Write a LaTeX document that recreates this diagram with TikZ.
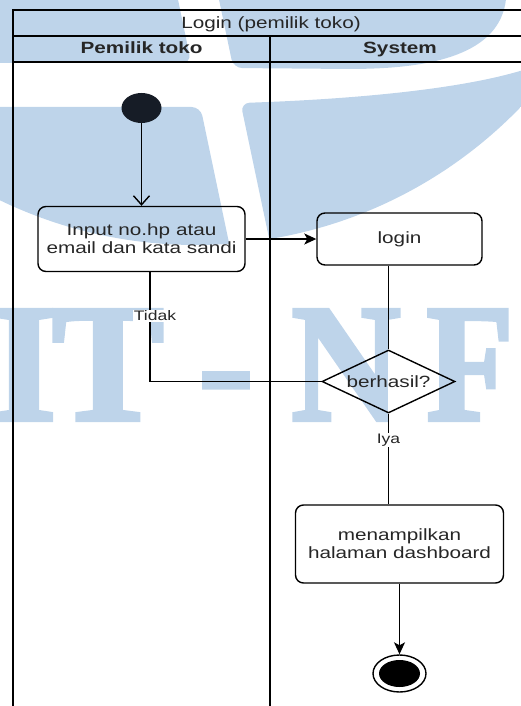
\documentclass[tikz,border=0pt]{standalone}
\usepackage{fontspec}
\setmainfont{Liberation Sans}[FakeStretch=1.27]
\newfontfamily\markfont{Liberation Serif}[FakeBold=2.5]
\usetikzlibrary{shapes.geometric,arrows.meta,positioning,calc}
\definecolor{markblue}{HTML}{BED4EA}
\definecolor{inkgray}{HTML}{262626}
\definecolor{startfill}{HTML}{161C26}

\begin{document}
\begin{tikzpicture}[x=1pt, y=-1pt,
    every node/.style={font=\fontsize{16.3pt}{18pt}\selectfont, text=inkgray},
    frame/.style={line width=1.4pt},
    actbox/.style={draw, line width=1.4pt, rounded corners=8pt, align=center, inner sep=2pt},
    decbox/.style={draw, diamond, aspect=2.1, inner sep=0pt, line width=1.4pt, minimum width=133pt, minimum height=63pt},
    lanehead/.style={font=\fontsize{16.3pt}{18pt}\selectfont\bfseries, anchor=base},
    lbl/.style={fill=white, inner sep=1pt, font=\fontsize{13.8pt}{16pt}\selectfont},
    flow/.style={line width=1.4pt},
    openhead/.style={flow, -{Straight Barb[length=9pt, width=16pt]}},
    fullhead/.style={flow, -{Stealth[length=12pt, width=11pt, inset=3pt]}},
    bigletter/.style={font=\markfont\bfseries\fontsize{168pt}{168pt}\selectfont, text=markblue, anchor=base, inner sep=0pt}]
    \useasboundingbox (0,0) rectangle (520,706);

    % Watermark
    \begin{scope}
        \clip (196,-206) circle (451pt);
        \fill[markblue, rounded corners=9pt] (-10,-10) -- (176,-10) -- (191.2,63) -- (-10,63) -- cycle;
        \fill[markblue, rounded corners=9pt] (217,-10) -- (233.3,68) -- (350,69) .. controls (430,68) and (500,55) .. (507,-10) -- cycle;
        \fill[markblue, rounded corners=9pt] (-10,107) -- (200.5,107) -- (241,300) -- (-10,300) -- cycle;
        \fill[markblue, rounded corners=9pt] (240.6,103) .. controls (330,100) and (450,92) .. (530,68) -- (530,300) -- (282,300) -- cycle;
    \end{scope}
    \node[bigletter] (wmI) at (24,420) {I};
    \node[bigletter] (wmT) at (108,420) {T};
    \node[bigletter] (wmdash) at (226,420) {-};
    \node[bigletter] (wmN) at (346,420) {\scalebox{0.9}[1]{N}};
    \node[bigletter] (wmF) at (470,420) {\scalebox{0.85}[1]{F}};

    % Pool and lanes
    \draw[frame] (13,706) -- (13,10) -- (535,10) -- (535,706);
    \draw[frame] (13,36) -- (535,36);
    \draw[frame] (13,62) -- (535,62);
    \draw[frame] (270,36) -- (270,706);
    \node[anchor=base] (pool) at (271,28.3) {Login (pemilik toko)};
    \node[lanehead] (laneowner) at (141.5,53.5) {Pemilik toko};
    \node[lanehead] (lanesys) at (400,53.5) {System};

    % Activities
    \node[fill=startfill, ellipse, minimum width=40pt, minimum height=30pt, inner sep=0pt] (start) at (141.5,108) {};
    \node[actbox, minimum width=207pt, minimum height=65pt] (input) at (141.5,239) {Input no.hp atau\\email dan kata sandi};
    \node[actbox, minimum width=165pt, minimum height=52pt] (login) at (399.5,239) {login};
    \node[decbox] (check) at (388.5,381.5) {berhasil?};
    \node[actbox, minimum width=208pt, minimum height=78pt] (dash) at (399.5,544) {menampilkan\\halaman dashboard};
    \node[draw, ellipse, line width=1.4pt, minimum width=53pt, minimum height=37pt] (stop) at (399.5,673.5) {};
    \node[fill=black, ellipse, minimum width=41pt, minimum height=27pt, inner sep=0pt] (stopdot) at (stop.center) {};

    % Flows
    \draw[openhead] (start) -- (input);
    \draw[fullhead] (input) -- (login);
    \draw[flow] (check.north |- login.south) -- (check);
    \coordinate (back) at (150,381.5);
    \draw[flow] (check.west) -- (back) -- node[lbl, pos=0.6, xshift=5pt] (lbltidak) {Tidak} (back |- input.south);
    \draw[flow] (check.south) -- node[lbl, pos=0.29] (lbliya) {Iya} (check.south |- dash.north);
    \draw[fullhead] (dash) -- (stop);
\end{tikzpicture}
\end{document}
